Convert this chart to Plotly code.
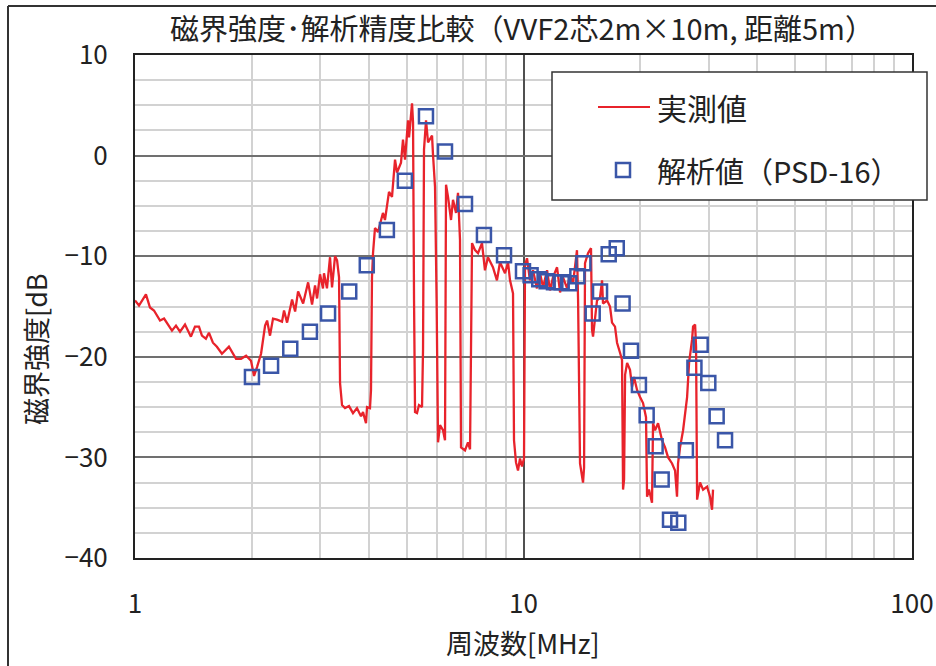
import plotly.graph_objects as go

# Measured magnetic field strength (MHz, dB)
freq_meas = [
    1.000, 1.024, 1.067, 1.093, 1.119, 1.160, 1.188, 1.245, 1.275, 1.306,
    1.345, 1.393, 1.427, 1.461, 1.487, 1.522, 1.550, 1.587, 1.625, 1.674,
    1.745, 1.820, 1.875, 1.932, 1.989, 2.025, 2.062, 2.111, 2.162, 2.188,
    2.226, 2.266, 2.320, 2.390, 2.419, 2.463, 2.537, 2.583, 2.629, 2.709,
    2.790, 2.856, 2.907, 2.942, 2.994, 3.047, 3.065, 3.120, 3.177, 3.215,
    3.273, 3.312, 3.351, 3.371, 3.411, 3.472, 3.555, 3.640, 3.727, 3.817,
    3.863, 3.932, 3.956, 4.026, 4.050, 4.074, 4.099, 4.147, 4.222, 4.347,
    4.400, 4.506, 4.587, 4.670, 4.726, 4.838, 4.896, 4.955, 5.044, 5.074,
    5.165, 5.196, 5.227, 5.258, 5.320, 5.383, 5.480, 5.513, 5.545, 5.612,
    5.679, 5.815, 5.849, 5.919, 5.975, 6.000, 6.026, 6.097, 6.206, 6.280,
    6.318, 6.393, 6.508, 6.585, 6.704, 6.783, 6.864, 6.905, 7.070, 7.196,
    7.284, 7.371, 7.503, 7.637, 7.819, 7.958, 8.100, 8.343, 8.544, 8.700,
    8.963, 9.124, 9.232, 9.398, 9.453, 9.565, 9.679, 9.795, 9.912, 10.03,
    10.09, 10.21, 10.39, 10.58, 10.83, 11.03, 11.23, 11.50, 11.70, 11.91,
    12.20, 12.42, 12.64, 12.95, 13.17, 13.41, 13.73, 13.82, 13.98, 14.23,
    14.32, 14.40, 14.66, 14.92, 15.01, 15.10, 15.28, 15.46, 15.74, 15.93,
    16.02, 16.41, 16.70, 16.90, 17.20, 17.41, 17.72, 17.93, 18.04, 18.15,
    18.26, 18.48, 18.80, 19.03, 19.25, 19.60, 19.95, 20.31, 20.67, 20.80,
    21.04, 21.42, 21.55, 21.81, 22.20, 22.73, 23.14, 23.56, 24.12, 24.55,
    24.84, 24.99, 25.29, 25.75, 26.37, 26.68, 27.16, 27.32, 27.65, 27.81,
    27.98, 28.14, 28.47, 28.99, 29.69, 30.21, 30.57, 30.75,
]
db_meas = [
    -14.4, -14.9, -13.8, -15.1, -15.4, -16.4, -16.2, -17.4, -16.9, -17.5,
    -16.8, -18.0, -17.0, -17.0, -17.9, -18.2, -17.6, -18.6, -19.0, -19.7,
    -19.0, -20.2, -20.2, -19.9, -20.4, -21.9, -21.0, -19.7, -16.9, -16.4,
    -17.9, -16.2, -16.3, -16.5, -15.4, -16.6, -14.3, -15.5, -13.5, -14.7,
    -12.6, -14.8, -12.9, -14.2, -11.8, -13.2, -11.7, -13.2, -10.1, -13.1,
    -10.0, -10.4, -12.1, -22.6, -24.8, -25.1, -24.9, -25.6, -25.1, -25.9,
    -25.5, -26.6, -25.0, -25.1, -23.3, -12.1, -9.7, -7.2, -7.6, -5.7,
    -6.4, -3.6, -4.1, -0.4, -1.7, -0.7, 1.6, -0.4, 3.5, 1.8,
    5.2, 3.3, -14.4, -25.5, -25.6, -24.8, -25.0, -19.3, 0.6, 3.5,
    1.3, 2.0, 0.1, -3.1, -14.4, -26.3, -28.5, -26.8, -27.3, -28.3,
    -2.9, -4.1, -6.4, -4.4, -5.7, -3.7, -8.4, -29.0, -29.3, -28.5,
    -29.2, -8.7, -9.4, -9.7, -8.7, -11.4, -10.1, -11.1, -12.4, -10.6,
    -11.7, -10.6, -12.4, -13.7, -28.3, -30.5, -31.3, -30.1, -30.9, -30.1,
    -10.9, -10.2, -12.4, -11.4, -13.2, -11.7, -13.1, -11.4, -13.4, -12.1,
    -11.1, -13.6, -12.1, -13.2, -11.9, -12.7, -9.4, -14.4, -30.6, -32.5,
    -31.0, -10.7, -9.7, -9.2, -17.3, -18.0, -16.0, -14.4, -14.1, -12.4,
    -14.7, -14.4, -15.0, -16.6, -17.0, -18.6, -19.6, -20.3, -33.2, -32.2,
    -21.8, -20.6, -21.3, -23.0, -22.0, -23.3, -24.0, -24.6, -26.0, -33.9,
    -33.2, -34.5, -26.6, -27.3, -26.6, -28.3, -29.0, -30.0, -30.6, -31.3,
    -33.9, -30.6, -29.0, -27.3, -24.0, -20.6, -18.3, -17.0, -16.8, -19.0,
    -34.2, -33.5, -32.5, -33.2, -32.9, -33.9, -35.2, -33.2,
]

# Simulated values (PSD-16)
freq_psd = [
    2.00, 2.24, 2.51, 2.82, 3.14, 3.56, 3.95, 4.45, 4.95, 5.61,
    6.28, 7.07, 7.91, 8.91, 9.97, 10.43, 10.98, 11.47, 11.98, 12.54,
    13.12, 13.76, 14.26, 15.07, 15.74, 16.57, 17.38, 17.99, 18.91, 19.82,
    20.75, 21.88, 22.68, 23.83, 25.03, 26.18, 27.54, 28.58, 29.90, 31.42,
    33.02,
]
db_psd = [
    -22.0, -20.9, -19.2, -17.5, -15.7, -13.5, -10.9, -7.4, -2.5, 3.9,
    0.4, -4.8, -7.9, -9.9, -11.5, -11.9, -12.3, -12.5, -12.6, -12.6,
    -12.7, -12.0, -10.7, -15.7, -13.5, -9.8, -9.2, -14.7, -19.4, -22.8,
    -25.8, -28.9, -32.2, -36.2, -36.5, -29.3, -21.1, -18.8, -22.6, -25.9,
    -28.3,
]

x_major_ticks = [1, 10, 100]
x_minor_ticks = [2, 3, 4, 5, 6, 7, 8, 9, 20, 30, 40, 50, 60, 70, 80, 90]

title_text = "磁界強度･解析精度比較（VVF2芯2m×10m, 距離5m）"
x_title = "周波数[MHz]"
y_title = "磁界強度[dB"
legend_meas = "実測値"
legend_psd = "解析値（PSD-16）"

RED = "#E8232B"
BLUE = "#3A56A8"
FONT = "Noto Sans CJK JP"

W, H = 936, 666
L, R, T, B = 135, 24, 55, 108


def px(x):
    return (x - L) / (W - L - R)


def py(y):
    return (H - B - y) / (H - T - B)


fig = go.Figure()
fig.add_trace(go.Scatter(
    x=freq_meas, y=db_meas, mode="lines", name=legend_meas,
    line=dict(color=RED, width=2.3), showlegend=False,
))
fig.add_trace(go.Scatter(
    x=freq_psd, y=db_psd, mode="markers", name=legend_psd,
    marker=dict(symbol="square-open", size=14, color=BLUE,
                line=dict(width=2.5, color=BLUE)),
    showlegend=False,
))

shapes = [
    # outer chart border (top and left edges)
    dict(type="line", xref="paper", yref="paper",
         x0=px(8), y0=py(6), x1=px(W + 10), y1=py(6),
         line=dict(color="#333333", width=2)),
    dict(type="line", xref="paper", yref="paper",
         x0=px(8), y0=py(6), x1=px(8), y1=py(H + 10),
         line=dict(color="#333333", width=2)),
    # legend box
    dict(type="rect", xref="paper", yref="paper",
         x0=px(552), y0=py(72), x1=px(927), y1=py(200),
         line=dict(color="#333333", width=1.5), fillcolor="white"),
    # legend line sample
    dict(type="line", xref="paper", yref="paper",
         x0=px(598), y0=py(107), x1=px(650), y1=py(107),
         line=dict(color=RED, width=2)),
    # legend marker sample
    dict(type="rect", xref="paper", yref="paper",
         x0=px(616), y0=py(163), x1=px(630), y1=py(177),
         line=dict(color=BLUE, width=2.5)),
]

annotations = [
    dict(text=legend_meas, xref="paper", yref="paper", x=px(655), y=py(107),
         xanchor="left", yanchor="middle", showarrow=False,
         font=dict(family=FONT, size=30, color="#222222")),
    dict(text=legend_psd, xref="paper", yref="paper", x=px(655), y=py(170),
         xanchor="left", yanchor="middle", showarrow=False,
         font=dict(family=FONT, size=29, color="#222222")),
    dict(text=y_title, xref="paper", yref="paper", x=px(35), y=py(349),
         xanchor="center", yanchor="middle", textangle=-90, showarrow=False,
         font=dict(family=FONT, size=27, color="#222222")),
    dict(text=x_title, xref="paper", yref="paper", x=px(523), y=py(642),
         xanchor="center", yanchor="middle", showarrow=False,
         font=dict(family=FONT, size=27, color="#222222")),
]

fig.update_layout(
    width=W, height=H,
    margin=dict(l=L, r=R, t=T, b=B, pad=0, autoexpand=False),
    paper_bgcolor="white", plot_bgcolor="white",
    font=dict(family=FONT, color="#222222"),
    title=dict(text=title_text, x=522 / W, xanchor="center",
               y=1 - 30 / H, yanchor="middle",
               font=dict(family=FONT, size=29, color="#222222")),
    shapes=shapes,
    annotations=annotations,
    showlegend=False,
)

fig.update_xaxes(
    type="log", range=[0, 2], automargin=False,
    tickvals=x_major_ticks, ticktext=[str(v) for v in x_major_ticks],
    ticks="", ticklabelstandoff=22,
    tickfont=dict(family=FONT, size=26, color="#222222"),
    showgrid=True, gridcolor="#505050", gridwidth=1.5,
    minor=dict(tickvals=x_minor_ticks, showgrid=True,
               gridcolor="#d2d2d2", gridwidth=1.5, ticks=""),
    showline=True, linecolor="#222222", linewidth=2, mirror=True,
    zeroline=False,
)
fig.update_yaxes(
    range=[-40, 10], dtick=10, automargin=False,
    ticks="", ticklabelstandoff=20,
    tickfont=dict(family=FONT, size=26, color="#222222"),
    showgrid=True, gridcolor="#707070", gridwidth=1.5,
    minor=dict(dtick=2.5, showgrid=True, gridcolor="#d2d2d2",
               gridwidth=1.5, ticks=""),
    showline=True, linecolor="#222222", linewidth=2, mirror=True,
    zeroline=False,
)

fig.write_html("out.html")
